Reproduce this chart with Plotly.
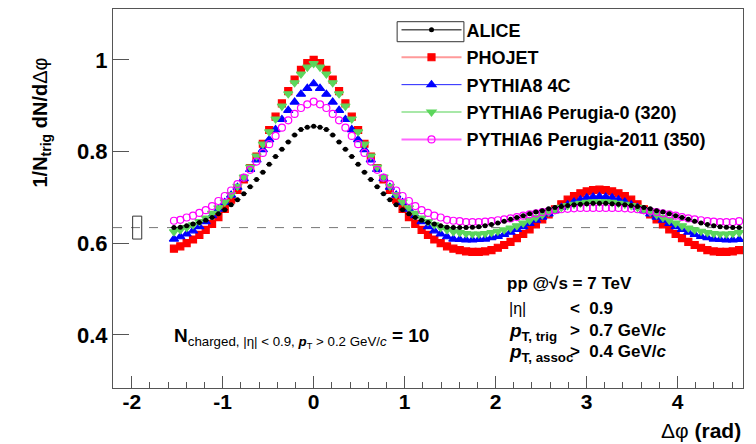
import numpy as np
import plotly.graph_objects as go

# ---- data: 90 bins in delta-phi from -pi/2 to 3pi/2 ----
NBINS = 90
edges = np.linspace(-np.pi / 2, 3 * np.pi / 2, NBINS + 1)
dphi = 0.5 * (edges[:-1] + edges[1:])
half_bin = 0.5 * (edges[1] - edges[0])

alice = [0.634,0.635,0.638,0.642,0.645,0.650,0.656,0.664,0.673,0.684,0.695,0.708,0.723,0.739,0.755,0.772,0.789,0.805,0.821,0.836,0.848,0.853,
         0.855,0.853,0.848,0.836,0.821,0.805,0.789,0.772,0.755,0.739,0.723,0.708,0.695,0.684,0.673,0.664,0.656,0.650,0.645,0.642,0.638,0.635,0.634,
         0.634,0.634,0.635,0.636,0.638,0.641,0.644,0.648,0.652,0.656,0.660,0.664,0.668,0.671,0.675,0.678,0.680,0.682,0.684,0.685,0.686,0.687,0.687,
         0.687,0.686,0.685,0.684,0.682,0.680,0.678,0.675,0.671,0.668,0.664,0.660,0.656,0.652,0.648,0.644,0.641,0.638,0.636,0.635,0.634,0.634]

phojet = [0.588,0.593,0.600,0.608,0.618,0.629,0.642,0.657,0.675,0.695,0.716,0.739,0.764,0.789,0.817,0.847,0.876,0.905,0.932,0.957,0.978,0.993,
          1.000,0.993,0.978,0.957,0.932,0.905,0.876,0.847,0.817,0.789,0.764,0.739,0.716,0.695,0.675,0.657,0.642,0.629,0.618,0.608,0.600,0.593,0.588,
          0.585,0.582,0.581,0.581,0.582,0.585,0.590,0.596,0.603,0.611,0.620,0.630,0.641,0.652,0.663,0.674,0.685,0.695,0.703,0.709,0.713,0.716,0.717,
          0.716,0.713,0.709,0.703,0.695,0.685,0.674,0.663,0.652,0.641,0.630,0.620,0.611,0.603,0.596,0.590,0.585,0.582,0.581,0.581,0.582,0.585]

pythia8 = [0.609,0.614,0.620,0.627,0.636,0.647,0.660,0.674,0.689,0.705,0.722,0.741,0.761,0.782,0.804,0.826,0.848,0.870,0.890,0.908,0.925,0.938,
           0.948,0.938,0.925,0.908,0.890,0.870,0.848,0.826,0.804,0.782,0.761,0.741,0.722,0.705,0.689,0.674,0.660,0.647,0.636,0.627,0.620,0.614,0.609,
           0.608,0.607,0.607,0.608,0.609,0.612,0.615,0.619,0.624,0.630,0.636,0.643,0.650,0.657,0.664,0.671,0.678,0.684,0.690,0.695,0.699,0.701,0.702,
           0.701,0.699,0.695,0.690,0.684,0.678,0.671,0.664,0.657,0.650,0.643,0.636,0.630,0.624,0.619,0.615,0.612,0.609,0.608,0.607,0.607,0.608]

perugia0 = [0.625,0.629,0.634,0.640,0.647,0.655,0.665,0.677,0.690,0.706,0.724,0.744,0.766,0.790,0.816,0.843,0.871,0.899,0.926,0.950,0.969,0.984,
            0.992,0.984,0.969,0.950,0.926,0.899,0.871,0.843,0.816,0.790,0.766,0.744,0.724,0.706,0.690,0.677,0.665,0.655,0.647,0.640,0.634,0.629,0.625,
            0.623,0.621,0.620,0.620,0.621,0.623,0.626,0.629,0.633,0.638,0.644,0.650,0.656,0.662,0.668,0.673,0.678,0.682,0.685,0.687,0.689,0.690,0.690,
            0.690,0.689,0.687,0.685,0.682,0.678,0.673,0.668,0.662,0.656,0.650,0.644,0.638,0.633,0.629,0.626,0.623,0.621,0.620,0.620,0.621,0.623]

perugia2011 = [0.649,0.651,0.656,0.660,0.666,0.672,0.681,0.692,0.703,0.715,0.729,0.743,0.760,0.778,0.797,0.816,0.834,0.852,0.868,0.882,0.895,0.903,
               0.909,0.903,0.895,0.882,0.868,0.852,0.834,0.816,0.797,0.778,0.760,0.743,0.729,0.715,0.703,0.692,0.681,0.672,0.666,0.660,0.656,0.651,0.649,
               0.648,0.646,0.646,0.646,0.647,0.648,0.650,0.652,0.654,0.657,0.660,0.663,0.665,0.668,0.670,0.672,0.674,0.675,0.676,0.677,0.677,0.677,0.677,
               0.677,0.677,0.677,0.676,0.675,0.674,0.672,0.670,0.668,0.665,0.663,0.660,0.657,0.654,0.652,0.650,0.648,0.647,0.646,0.646,0.646,0.648]

baseline = 0.634
baseline_err = 0.025

x_tickvals = [-2, -1, 0, 1, 2, 3, 4]
x_ticktext = ["-2", "-1", "0", "1", "2", "3", "4"]
y_tickvals = [0.4, 0.6, 0.8, 1.0]
y_ticktext = ["0.4", "0.6", "0.8", "1"]

FONT = "Liberation Sans"

# name, data, marker symbol, marker colour, legend line colour, legend line width, size, rank
series = [
    ("PHOJET", phojet, "square", "#ff0000", "#ff9a9a", 2, 7, 2),
    ("PYTHIA8 4C", pythia8, "triangle-up", "#0000ff", "#2222ff", 1, 8, 3),
    ("PYTHIA6 Perugia-0 (320)", perugia0, "triangle-down", "#5cd65c", "#a8e8a8", 2, 8, 4),
    ("PYTHIA6 Perugia-2011 (350)", perugia2011, "circle-open", "#ff00ff", "#ff66ff", 2, 7, 5),
]

fig = go.Figure()

for name, vals, sym, col, lcol, lw, size, rank in series:
    fig.add_trace(go.Scatter(x=dphi, y=vals, mode="markers", name=name, showlegend=False,
                             marker=dict(symbol=sym, size=size, color=col, line=dict(width=1.2, color=col))))
fig.add_trace(go.Scatter(x=dphi, y=alice, mode="markers", name="ALICE", showlegend=False,
                         marker=dict(symbol="circle", size=5, color="black"),
                         error_x=dict(type="constant", value=half_bin, width=0, thickness=1, color="black")))

# legend entries (line + marker, as in the reference legend)
fig.add_trace(go.Scatter(x=[None], y=[None], mode="lines+markers", name="ALICE", legendrank=1,
                         legendgroup="a", line=dict(color="black", width=1),
                         marker=dict(symbol="circle", size=5, color="black")))
for i, (name, vals, sym, col, lcol, lw, size, rank) in enumerate(series):
    fig.add_trace(go.Scatter(x=[None], y=[None], mode="lines+markers", name=name, legendrank=rank,
                             legendgroup="g%d" % i, line=dict(color=lcol, width=lw),
                             marker=dict(symbol=sym, size=size, color=col, line=dict(width=1.2, color=col))))

# baseline (dashed) and its uncertainty box
fig.add_shape(type="line", xref="paper", x0=0, x1=1, y0=baseline, y1=baseline,
              line=dict(color="#777777", width=1, dash="dash"), layer="below")
fig.add_shape(type="rect", x0=-1.99, x1=-1.89, y0=baseline - baseline_err, y1=baseline + baseline_err,
              line=dict(color="#333333", width=1), fillcolor="rgba(0,0,0,0)")
# box around the ALICE legend symbol
fig.add_shape(type="rect", xref="paper", yref="paper", x0=0.451, x1=0.557, y0=0.9137, y1=0.9665,
              line=dict(color="#333333", width=1), fillcolor="rgba(0,0,0,0)")

axis_common = dict(showline=True, linecolor="#555555", linewidth=1, mirror=True, showgrid=False,
                   zeroline=False, ticks="inside", tickcolor="#555555")

fig.update_xaxes(range=[-2.206, 4.72], tickvals=x_tickvals, ticktext=x_ticktext, ticklen=12,
                 tickfont=dict(family=FONT, size=21, color="black", weight="bold"),
                 ticklabelstandoff=-5,
                 minor=dict(dtick=0.2, tick0=0, ticklen=6, ticks="inside", tickcolor="#555555"),
                 **axis_common)
fig.update_yaxes(range=[0.284, 1.111], tickvals=y_tickvals, ticktext=y_ticktext,
                 tickfont=dict(family=FONT, size=22, color="black", weight="bold"),
                 ticklen=16, **axis_common)

annotations = [
    dict(text="<b>1/N<sub>trig</sub> dN/d</b>Δφ", x=-0.113, y=0.70, xref="paper", yref="paper",
         textangle=-90, showarrow=False, xanchor="center", yanchor="middle",
         font=dict(family=FONT, size=20, color="black")),
    dict(text="Δφ <b>(rad)</b>", x=1.0, y=-0.111, xref="paper", yref="paper", showarrow=False,
         xanchor="right", yanchor="middle", font=dict(family=FONT, size=21, color="black")),
    dict(text="<b>pp @√s = 7 TeV</b>", x=0.623, y=0.277, xref="paper", yref="paper", showarrow=False,
         xanchor="left", yanchor="middle", font=dict(family=FONT, size=17, color="black")),
    dict(text="|η|", x=0.625, y=0.211, xref="paper", yref="paper", showarrow=False,
         xanchor="left", yanchor="middle", font=dict(family=FONT, size=16, color="black")),
    dict(text="<b>&lt;  0.9</b>", x=0.723, y=0.211, xref="paper", yref="paper", showarrow=False,
         xanchor="left", yanchor="middle", font=dict(family=FONT, size=17, color="black")),
    dict(text="<b><i>p</i><sub>T, trig</sub></b>", x=0.625, y=0.147, xref="paper", yref="paper", showarrow=False,
         xanchor="left", yanchor="middle", font=dict(family=FONT, size=19, color="black")),
    dict(text="<b>&gt;  0.7 GeV/<i>c</i></b>", x=0.723, y=0.152, xref="paper", yref="paper", showarrow=False,
         xanchor="left", yanchor="middle", font=dict(family=FONT, size=17, color="black")),
    dict(text="<b><i>p</i><sub>T, assoc</sub></b>", x=0.625, y=0.093, xref="paper", yref="paper", showarrow=False,
         xanchor="left", yanchor="middle", font=dict(family=FONT, size=19, color="black")),
    dict(text="<b>&gt;  0.4 GeV/<i>c</i></b>", x=0.723, y=0.095, xref="paper", yref="paper", showarrow=False,
         xanchor="left", yanchor="middle", font=dict(family=FONT, size=17, color="black")),
    dict(text="<b>N</b><sub>charged, |η| &lt; 0.9, <b><i>p</i></b><sub>T</sub> &gt; 0.2 GeV/<i>c</i></sub><b> = 10</b>",
         x=0.094, y=0.132, xref="paper", yref="paper", showarrow=False,
         xanchor="left", yanchor="middle", font=dict(family=FONT, size=19, color="black")),
]

fig.update_layout(
    width=756, height=444,
    margin=dict(l=113, r=13, t=9, b=56),
    plot_bgcolor="white", paper_bgcolor="white",
    font=dict(family=FONT, color="black"),
    showlegend=True,
    legend=dict(x=0.45, y=0.993, xanchor="left", yanchor="top", bgcolor="rgba(0,0,0,0)",
                font=dict(family=FONT, size=18, color="black", weight="bold"),
                tracegroupgap=1, itemwidth=60),
    annotations=annotations,
)

fig.write_html("out.html")
